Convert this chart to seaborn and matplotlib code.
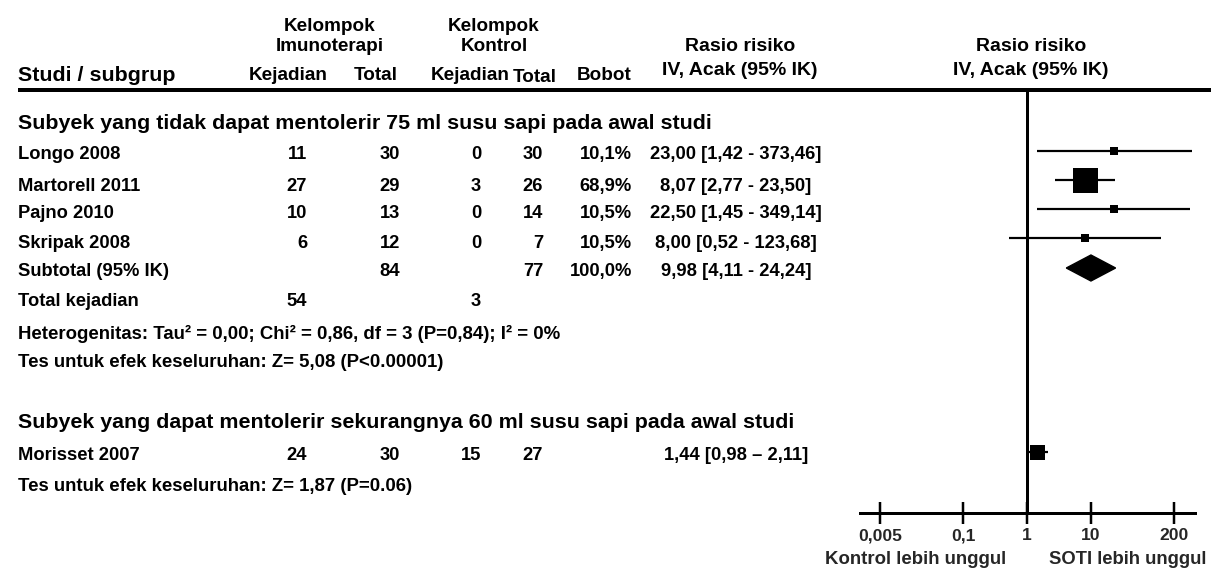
import numpy as np
import pandas as pd
import matplotlib
matplotlib.use("Agg")
import matplotlib.pyplot as plt
import seaborn as sns

# ---------------- data ----------------
studies = ["Longo 2008", "Martorell 2011", "Pajno 2010", "Skripak 2008"]
imm_events = [11, 27, 10, 6]
imm_total = [30, 29, 13, 12]
ctl_events = [0, 3, 0, 0]
ctl_total = [30, 26, 14, 7]
weights = [10.1, 68.9, 10.5, 10.5]
rr = [23.00, 8.07, 22.50, 8.00]
rr_lo = [1.42, 2.77, 1.45, 0.52]
rr_hi = [373.46, 23.50, 349.14, 123.68]

sub_imm_total, sub_ctl_total, sub_weight = 84, 77, 100.0
sub_rr, sub_lo, sub_hi = 9.98, 4.11, 24.24
tot_imm_events, tot_ctl_events = 54, 3

study2 = "Morisset 2007"
imm_events2, imm_total2, ctl_events2, ctl_total2 = 24, 30, 15, 27
rr2, rr2_lo, rr2_hi = 1.44, 0.98, 2.11

group1 = "Subyek yang tidak dapat mentolerir 75 ml susu sapi pada awal studi"
group2 = "Subyek yang dapat mentolerir sekurangnya 60 ml susu sapi pada awal studi"
het1 = "Heterogenitas: Tau\u00b2 = 0,00; Chi\u00b2 = 0,86, df = 3 (P=0,84); I\u00b2 = 0%"
test1 = "Tes untuk efek keseluruhan: Z= 5,08 (P<0.00001)"
test2 = "Tes untuk efek keseluruhan: Z= 1,87 (P=0.06)"
tick_vals = [0.005, 0.1, 1, 10, 200]
tick_labels = ["0,005", "0,1", "1", "10", "200"]
left_label = "Kontrol lebih unggul"
right_label = "SOTI lebih unggul"

# ---------------- style ----------------
sns.set_theme(style="white")
plt.rcParams["font.family"] = ["Liberation Sans", "DejaVu Sans"]
W, H = 1211, 574
fig = plt.figure(figsize=(W / 100, H / 100), dpi=100)
bg = fig.add_axes([0, 0, 1, 1])
bg.set_xlim(0, W)
bg.set_ylim(H, 0)
bg.axis("off")

FS = 13.2      # row text
FSH = 13.6     # column headers
FSG = 15.4     # group headers
FSS = 13.4     # notes
PX = 0.72      # points per pixel


def fmt(v, d=2):
    return f"{v:.{d}f}".replace(".", ",")


def txt(x, y, s, ha="left", fs=FS, weight="bold"):
    bg.text(x, y + 1.5, s, ha=ha, va="center", fontsize=fs, fontweight=weight, color="black")


# text row positions (pixels from top)
y_head1, y_head2, y_head3 = 25, 45, 74
y_line = 90
y_g1 = 122
y_txt = [153, 185, 212, 242]
y_sub_txt = 270
y_tot = 300
y_het = 332
y_test1 = 361
y_g2 = 421
y_row2_txt = 454
y_test2 = 485
y_axis = 513

# forest mark rows
y_rows = [151, 180, 209, 238]
y_sub = 268
y_row2 = 452

# columns
x_name = 18
x_ie, x_it, x_ce, x_ct, x_w, x_rr = 307, 400, 481, 543, 632, 736

# headers
txt(330, y_head1, "Kelompok", ha="center", fs=FSH)
txt(330, y_head2, "Imunoterapi", ha="center", fs=FSH)
txt(494, y_head1, "Kelompok", ha="center", fs=FSH)
txt(494, y_head2, "Kontrol", ha="center", fs=FSH)
txt(x_name, y_head3, "Studi / subgrup", fs=FSG)
txt(288, y_head3, "Kejadian", ha="center", fs=FSH)
txt(376, y_head3, "Total", ha="center", fs=FSH)
txt(470, y_head3, "Kejadian", ha="center", fs=FSH)
txt(535, y_head3 + 2, "Total", ha="center", fs=FSH)
txt(604, y_head3, "Bobot", ha="center", fs=FSH)
txt(740, 45, "Rasio risiko", ha="center", fs=14.0)
txt(740, 69, "IV, Acak (95% IK)", ha="center", fs=14.0)
txt(1031, 45, "Rasio risiko", ha="center", fs=14.0)
txt(1031, 69, "IV, Acak (95% IK)", ha="center", fs=14.0)
bg.plot([x_name, W], [y_line, y_line], color="black", lw=4 * PX, solid_capstyle="butt")

# group 1
txt(x_name, y_g1, group1, fs=FSG)
for i, name in enumerate(studies):
    y = y_txt[i]
    txt(x_name, y, name)
    txt(x_ie, y, str(imm_events[i]), ha="right")
    txt(x_it, y, str(imm_total[i]), ha="right")
    txt(x_ce, y, str(ctl_events[i]), ha="right")
    txt(x_ct, y, str(ctl_total[i]), ha="right")
    txt(x_w, y, fmt(weights[i], 1) + "%", ha="right")
    txt(x_rr, y, f"{fmt(rr[i])} [{fmt(rr_lo[i])} - {fmt(rr_hi[i])}]", ha="center")
txt(x_name, y_sub_txt, "Subtotal (95% IK)")
txt(x_it, y_sub_txt, str(sub_imm_total), ha="right")
txt(x_ct, y_sub_txt, str(sub_ctl_total), ha="right")
txt(x_w, y_sub_txt, fmt(sub_weight, 1) + "%", ha="right")
txt(x_rr, y_sub_txt, f"{fmt(sub_rr)} [{fmt(sub_lo)} - {fmt(sub_hi)}]", ha="center")
txt(x_name, y_tot, "Total kejadian")
txt(x_ie, y_tot, str(tot_imm_events), ha="right")
txt(x_ce, y_tot, str(tot_ctl_events), ha="right")
txt(x_name, y_het, het1, fs=FSS)
txt(x_name, y_test1, test1, fs=FSS)

# group 2
txt(x_name, y_g2, group2, fs=FSG)
txt(x_name, y_row2_txt, study2)
txt(x_ie, y_row2_txt, str(imm_events2), ha="right")
txt(x_it, y_row2_txt, str(imm_total2), ha="right")
txt(x_ce, y_row2_txt, str(ctl_events2), ha="right")
txt(x_ct, y_row2_txt, str(ctl_total2), ha="right")
txt(x_rr, y_row2_txt, f"{fmt(rr2)} [{fmt(rr2_lo)} \u2013 {fmt(rr2_hi)}]", ha="center")
txt(x_name, y_test2, test2, fs=FSS)

# ---------------- forest axes ----------------
x0, x1, x_one, ppd = 860, 1195, 1027, 64.0
axf = fig.add_axes([x0 / W, (H - y_axis) / H, (x1 - x0) / W, (y_axis - y_line) / H])
axf.set_xscale("log")
axf.set_xlim(10 ** ((x0 - x_one) / ppd), 10 ** ((x1 - x_one) / ppd))
axf.set_ylim(y_axis, y_line)
axf.patch.set_alpha(0)
for side in ["top", "right", "left"]:
    axf.spines[side].set_visible(False)
axf.spines["bottom"].set_linewidth(3 * PX)
axf.spines["bottom"].set_color("black")
axf.set_yticks([])
axf.set_xticks(tick_vals)
axf.set_xticklabels(tick_labels)
axf.minorticks_off()
axf.tick_params(axis="x", which="major", bottom=True, direction="inout", length=16,
                width=2.5 * PX, color="black", pad=3, labelsize=12.6)
for lab in axf.get_xticklabels():
    lab.set_fontweight("bold")
axf.axvline(1, color="black", lw=3 * PX, zorder=1)

box_px = [8, 25, 8, 8]
df = pd.DataFrame({"rr": rr + [rr2], "lo": rr_lo + [rr2_lo], "hi": rr_hi + [rr2_hi],
                   "y": y_rows + [y_row2]})
axf.hlines(df["y"], df["lo"], df["hi"], color="black", lw=2.2 * PX, zorder=2)
sizes = [(b * PX) ** 2 for b in box_px + [15]]
sns.scatterplot(data=df, x="rr", y="y", marker="s", color="black", s=sizes,
                linewidth=0, legend=False, ax=axf, zorder=3)
axf.set_xlabel("")
axf.set_ylabel("")
dia_x = [sub_lo, sub_rr, sub_hi, sub_rr]
dia_y = [y_sub, y_sub - 13, y_sub, y_sub + 13]
axf.fill(dia_x, dia_y, color="black", zorder=3)

bg.text(916, 560, left_label, ha="center", va="center", fontsize=13.4, fontweight="bold")
bg.text(1128, 560, right_label, ha="center", va="center", fontsize=13.3, fontweight="bold")

fig.savefig("out.png", dpi=100)
